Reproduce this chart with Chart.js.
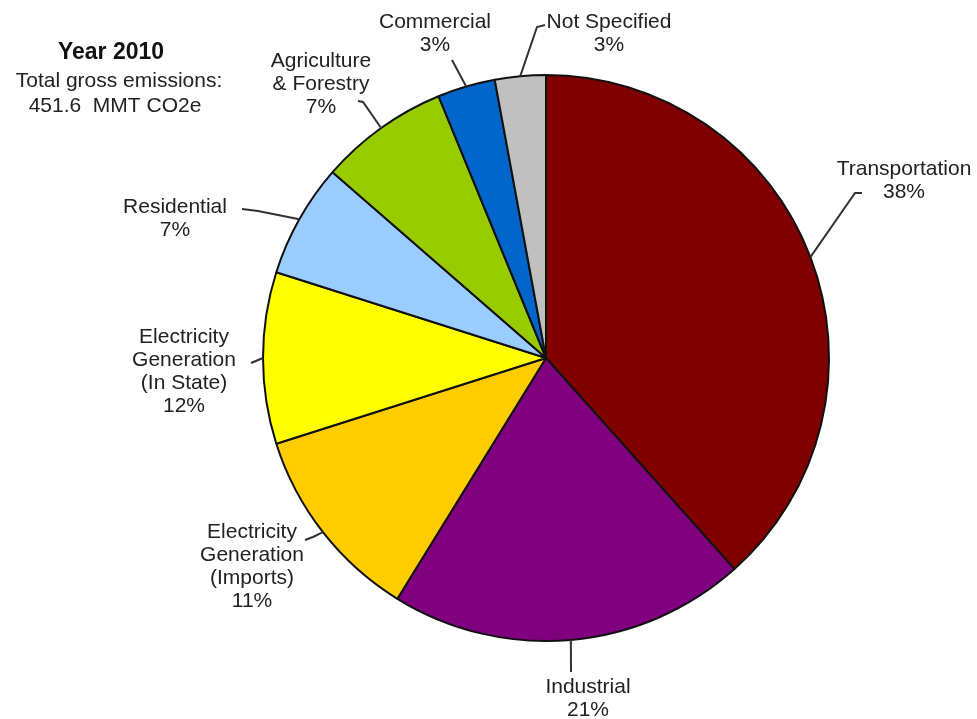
<!DOCTYPE html>
<html lang="en">
<head>
<meta charset="UTF-8">
<title>Emissions 2010</title>
<script src="https://cdn.jsdelivr.net/npm/chart.js"></script>
<style>
  html, body { margin: 0; padding: 0; background: #fff; }
  #wrap { width: 977px; height: 719px; }
</style>
</head>
<body>
<div id="wrap"><canvas id="pie" width="977" height="719"></canvas></div>

<script>
// slice shares (percent of total)
var categories = ['Transportation', 'Industrial', 'Electricity Generation (Imports)',
  'Electricity Generation (In State)', 'Residential', 'Agriculture & Forestry',
  'Commercial', 'Not Specified'];
var shares = [38.4, 20.4, 11.3, 9.8, 6.5, 7.4, 3.3, 2.9];
var shareLabels = ['38%', '21%', '11%', '12%', '7%', '7%', '3%', '3%'];
var labelLines = [
  ['Transportation'],
  ['Industrial'],
  ['Electricity', 'Generation', '(Imports)'],
  ['Electricity', 'Generation', '(In State)'],
  ['Residential'],
  ['Agriculture', '& Forestry'],
  ['Commercial'],
  ['Not Specified']
];
var sliceColors = ['#800000', '#800080', '#FFCC00', '#FFFF00', '#99CCFF', '#99CC00', '#0066CC', '#C0C0C0'];

// where each label sits + leader elbow points (label text centre x, first baseline y)
var labelLayout = [
  { x: 904, y: 175, path: [[855, 193], [862, 193]] },
  { x: 588, y: 693, path: [[571, 672]] },
  { x: 252, y: 538, path: [[313, 537], [305, 540]] },
  { x: 184, y: 343, path: [[251, 363]] },
  { x: 175, y: 213, path: [[258, 211], [242, 209]] },
  { x: 321, y: 67, path: [[363, 102], [358, 101]] },
  { x: 435, y: 28, path: [[452, 60]] },
  { x: 609, y: 28, path: [[537, 27], [545, 25]] }
];

var labelPlugin = {
  id: 'sliceLabels',
  afterDraw: function (chart) {
    var ctx = chart.ctx;
    var arcs = chart.getDatasetMeta(0).data;
    ctx.save();

    // title block
    ctx.fillStyle = '#111';
    ctx.textAlign = 'center';
    ctx.font = 'bold 23px "Liberation Sans", Arial, sans-serif';
    ctx.fillText('Year 2010', 111, 59);
    ctx.fillStyle = '#222';
    ctx.font = '21px "Liberation Sans", Arial, sans-serif';
    ctx.fillText('Total gross emissions:', 119, 87);
    ctx.fillText('451.6  MMT CO2e', 115, 112);

    for (var i = 0; i < arcs.length; i++) {
      var a = arcs[i].getProps(['x', 'y', 'startAngle', 'endAngle', 'outerRadius'], true);
      var mid = (a.startAngle + a.endAngle) / 2;
      var ex = a.x + Math.cos(mid) * a.outerRadius;
      var ey = a.y + Math.sin(mid) * a.outerRadius;
      var lay = labelLayout[i];

      ctx.strokeStyle = '#333';
      ctx.lineWidth = 2;
      ctx.beginPath();
      ctx.moveTo(ex, ey);
      for (var p = 0; p < lay.path.length; p++) {
        ctx.lineTo(lay.path[p][0], lay.path[p][1]);
      }
      ctx.stroke();

      var lines = labelLines[i].concat([shareLabels[i]]);
      ctx.fillStyle = '#222';
      ctx.font = '21px "Liberation Sans", Arial, sans-serif';
      ctx.textAlign = 'center';
      for (var k = 0; k < lines.length; k++) {
        ctx.fillText(lines[k], lay.x, lay.y + k * 23);
      }
    }
    ctx.restore();
  }
};

new Chart(document.getElementById('pie'), {
  type: 'pie',
  data: {
    labels: categories,
    datasets: [{
      data: shares,
      backgroundColor: sliceColors,
      borderColor: '#111',
      borderWidth: 2
    }]
  },
  options: {
    responsive: false,
    animation: false,
    layout: { padding: { left: 262, right: 147, top: 74, bottom: 77 } },
    plugins: {
      legend: { display: false },
      tooltip: { enabled: false }
    }
  },
  plugins: [labelPlugin]
});
</script>
</body>
</html>
